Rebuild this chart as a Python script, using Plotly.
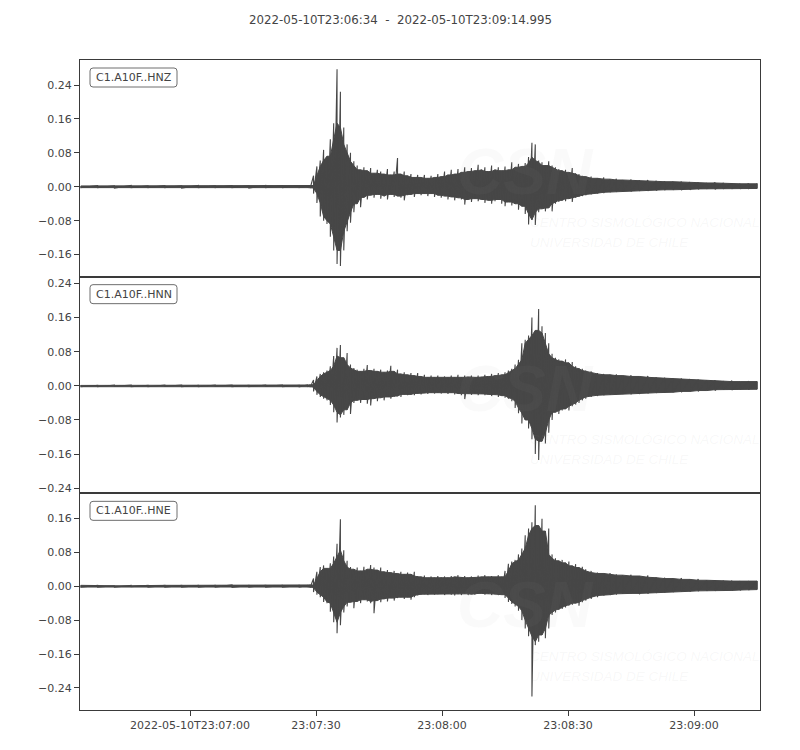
import plotly.graph_objects as go
from plotly.subplots import make_subplots

# ---------------- data (seconds after 2022-05-10T23:06:34, amplitude) ----------------
CHANNELS = ["C1.A10F..HNZ", "C1.A10F..HNN", "C1.A10F..HNE"]
TITLE = "2022-05-10T23:06:34  -  2022-05-10T23:09:14.995"

# sample columns (s) at which the envelope of the traces was read
TIME = [0, 4, 8, 12, 16, 20, 24, 28, 32, 36, 40, 44, 48, 52, 54,
        54.6, 55.4, 56.2, 57.0, 57.8, 58.6, 59.4, 60.2, 61.0, 61.8,
        62.6, 63.4, 64.2, 65.0, 65.8, 66.6, 67.4, 68.2, 69.0, 69.8,
        70.6, 71.4, 72.2, 73.0, 73.8, 74.6, 75.4, 76.2, 77.0, 77.8,
        78.6, 79.4, 80.2, 81.0, 81.8, 82.6, 83.4, 84.2, 85.0, 85.8,
        86.6, 87.4, 88.2, 89.0, 89.8, 90.6, 91.4, 92.2, 93.0, 93.8,
        94.6, 95.4, 96.2, 97.0, 97.8, 98.6, 99.4, 100.2, 101.0, 101.8,
        102.6, 103.4, 104.2, 105.0, 105.8, 106.6, 107.4, 108.2, 109.0, 109.8,
        110.6, 111.4, 112.2, 113.0, 113.8, 114.6, 115.4, 116.2, 117.0, 117.8,
        118.6, 119.4, 120.2,
        121.5, 123, 124.5, 126, 127.5, 129, 131, 133, 135, 137,
        139, 141, 143, 145, 147, 149, 151, 153, 155, 157, 159, 161]

# HNZ envelope (max / min per column)
HI_Z = [.002, .003, .002, .003, .002, .003, .002, .003, .002, .003, .002, .003, .002, .002, .002,
        .003, .026, .048, .062, .087, .072, .112, .150, .277, .224,
        .140, .100, .080, .060, .050, .040, .046, .038, .044, .032,
        .040, .036, .030, .042, .028, .036, .068, .030, .036, .026,
        .030, .022, .028, .022, .028, .020, .026, .022, .030, .024,
        .036, .028, .040, .030, .042, .034, .046, .036, .044, .038,
        .052, .040, .046, .036, .050, .040, .046, .038, .048, .040,
        .058, .046, .054, .048, .056, .070, .104, .100, .062, .058,
        .050, .060, .050, .046, .042, .038, .040, .034, .044, .032,
        .030, .026, .024,
        .024, .020, .022, .018, .019, .016, .017, .015, .016, .014,
        .013, .012, .012, .011, .010, .009, .010, .009, .008, .007, .008, .007]
LO_Z = [-.002, -.002, -.003, -.002, -.002, -.002, -.003, -.002, -.002, -.002, -.003, -.002, -.002, -.002, -.002,
        -.003, -.016, -.038, -.070, -.080, -.088, -.118, -.150, -.182, -.187,
        -.150, -.105, -.085, -.060, -.040, -.048, -.025, -.030, -.020, -.026,
        -.018, -.028, -.022, -.030, -.018, -.024, -.022, -.026, -.032, -.020,
        -.018, -.024, -.016, -.020, -.017, -.022, -.016, -.024, -.020, -.026,
        -.022, -.030, -.024, -.032, -.026, -.030, -.042, -.030, -.036, -.028,
        -.034, -.030, -.038, -.032, -.040, -.034, -.030, -.040, -.046, -.036,
        -.044, -.040, -.054, -.046, -.064, -.089, -.078, -.090, -.060, -.052,
        -.058, -.050, -.058, -.040, -.036, -.032, -.034, -.028, -.036, -.026,
        -.024, -.022, -.020,
        -.018, -.016, -.015, -.013, -.012, -.011, -.011, -.010, -.010, -.009,
        -.008, -.007, -.008, -.007, -.006, -.005, -.006, -.005, -.005, -.005, -.004, -.004]

# HNN envelope
HI_N = [.002, .001, .002, .002, .001, .002, .002, .001, .002, .002, .001, .002, .002, .001, .002,
        .003, .014, .022, .028, .032, .036, .046, .070, .089, .096,
        .066, .077, .050, .042, .038, .034, .040, .049, .036, .040,
        .034, .038, .032, .036, .047, .034, .038, .028, .032, .026,
        .030, .024, .030, .022, .026, .020, .024, .020, .024, .019,
        .022, .020, .024, .020, .026, .020, .024, .021, .024, .020,
        .024, .021, .026, .022, .028, .024, .030, .026, .032, .036,
        .040, .050, .061, .100, .108, .118, .160, .130, .180, .140,
        .124, .100, .075, .066, .062, .058, .062, .054, .056, .046,
        .042, .040, .036,
        .034, .030, .028, .026, .027, .024, .025, .022, .023, .020,
        .019, .018, .017, .016, .015, .013, .013, .011, .012, .010, .011, .010]
LO_N = [-.002, -.002, -.001, -.002, -.002, -.001, -.002, -.002, -.001, -.002, -.002, -.001, -.002, -.002, -.002,
        -.003, -.013, -.021, -.026, -.030, -.034, -.045, -.062, -.086, -.074,
        -.068, -.056, -.066, -.040, -.034, -.040, -.032, -.042, -.046, -.030,
        -.036, -.028, -.034, -.026, -.030, -.026, -.024, -.026, -.020, -.022,
        -.020, -.022, -.018, -.020, -.017, -.019, -.016, -.018, -.016, -.018,
        -.015, -.019, -.016, -.020, -.018, -.022, -.031, -.019, -.021, -.018,
        -.022, -.019, -.022, -.020, -.024, -.021, -.026, -.023, -.028, -.030,
        -.036, -.052, -.064, -.088, -.080, -.100, -.125, -.160, -.174, -.130,
        -.135, -.110, -.080, -.062, -.066, -.058, -.054, -.058, -.048, -.044,
        -.040, -.034, -.030,
        -.026, -.024, -.022, -.021, -.020, -.019, -.020, -.019, -.018, -.017,
        -.016, -.015, -.015, -.013, -.013, -.011, -.011, -.009, -.010, -.008, -.009, -.008]

# HNE envelope
HI_E = [.002, .002, .001, .002, .002, .002, .002, .002, .002, .003, .002, .002, .002, .002, .002,
        .003, .018, .034, .045, .049, .042, .054, .070, .100, .158,
        .085, .060, .045, .040, .044, .036, .046, .040, .050, .044,
        .038, .044, .034, .038, .032, .036, .030, .034, .028, .032,
        .028, .034, .024, .022, .025, .020, .023, .020, .024, .021,
        .023, .020, .024, .022, .026, .021, .024, .020, .023, .021,
        .025, .022, .026, .022, .024, .021, .026, .022, .036, .053,
        .058, .062, .075, .089, .120, .136, .151, .191, .143, .159,
        .130, .136, .075, .066, .060, .062, .055, .058, .048, .052,
        .044, .046, .040,
        .036, .032, .030, .031, .028, .026, .027, .024, .025, .021,
        .020, .018, .019, .016, .017, .014, .014, .013, .013, .012, .012, .012]
LO_E = [-.002, -.002, -.002, -.001, -.002, -.002, -.002, -.002, -.002, -.003, -.002, -.002, -.002, -.002, -.002,
        -.003, -.014, -.020, -.026, -.037, -.040, -.060, -.085, -.111, -.092,
        -.062, -.048, -.038, -.052, -.036, -.040, -.032, -.036, -.040, -.064,
        -.034, -.038, -.030, -.036, -.028, -.034, -.028, -.026, -.030, -.026,
        -.032, -.026, -.022, -.020, -.019, -.021, -.018, -.020, -.019, -.018,
        -.021, -.018, -.020, -.022, -.019, -.021, -.018, -.021, -.019, -.020,
        -.018, -.017, -.020, -.018, -.021, -.019, -.021, -.020, -.028, -.037,
        -.042, -.048, -.058, -.080, -.100, -.118, -.260, -.139, -.131, -.115,
        -.123, -.100, -.068, -.062, -.056, -.054, -.050, -.046, -.044, -.040,
        -.046, -.038, -.034,
        -.030, -.026, -.022, -.021, -.020, -.018, -.017, -.019, -.018, -.016,
        -.015, -.014, -.013, -.013, -.012, -.011, -.011, -.010, -.010, -.010, -.009, -.008]

TRACES = [(HI_Z, LO_Z), (HI_N, LO_N), (HI_E, LO_E)]
for _hi, _lo in TRACES:
    assert len(_hi) == len(TIME) and len(_lo) == len(TIME), (len(_hi), len(_lo), len(TIME))

X_TICK_SECONDS = [26, 56, 86, 116, 146]
X_TICK_LABELS = ["2022-05-10T23:07:00", "23:07:30", "23:08:00", "23:08:30", "23:09:00"]
Y_RANGES = [[-0.212, 0.299], [-0.252, 0.256], [-0.292, 0.219]]
X_RANGE = [-0.2, 161.7]

# ---------------- style ----------------
WAVE = "#474747"
FRAME = "#3a3a3a"
TEXT = "#444444"
FONT = "DejaVu Sans"
# page has an 8 px body margin; plot area on screen is x 80..760, y 60..710
W, H = 792, 742
ML, MR, MT, MB = 72, 40, 52, 40
SX0, SX1, SY0, SY1 = 80, 760, 60, 710


def px(x):
    return (x - SX0) / (SX1 - SX0)


def py(y):
    return (SY1 - y) / (SY1 - SY0)


def core(vals, pick):
    # solid body of the trace: the smaller excursion of each column and its neighbours
    n = len(vals)
    return [pick(vals[max(0, k - 1):min(n, k + 2)]) for k in range(n)]


fig = make_subplots(rows=3, cols=1, shared_xaxes=True, vertical_spacing=0)

for i, (hi, lo) in enumerate(TRACES):
    core_hi = core(hi, min)
    core_lo = core(lo, max)
    fig.add_trace(go.Scatter(
        x=list(TIME) + list(TIME)[::-1],
        y=core_hi + core_lo[::-1],
        mode="lines", fill="toself", fillcolor=WAVE,
        line=dict(color=WAVE, width=1),
        hoverinfo="skip", showlegend=False), row=i + 1, col=1)
    # min/max strokes of every column (hairline spikes)
    zx, zy = [], []
    for t, a, b in zip(TIME, hi, lo):
        zx += [t, t]
        zy += [a, b]
    fig.add_trace(go.Scatter(
        x=zx, y=zy, mode="lines", line=dict(color=WAVE, width=1.1),
        hoverinfo="skip", showlegend=False), row=i + 1, col=1)

shapes = []
annotations = []
panel_h = (SY1 - SY0) / 3
wm = "rgba(150,150,150,0.07)"
for i, name in enumerate(CHANNELS):
    top = SY0 + i * panel_h
    # rounded label box
    x0, x1, y0, y1, r = 90, 177, top + 8, top + 27, 3
    path = (f"M {px(x0 + r)},{py(y0)} L {px(x1 - r)},{py(y0)} Q {px(x1)},{py(y0)} {px(x1)},{py(y0 + r)} "
            f"L {px(x1)},{py(y1 - r)} Q {px(x1)},{py(y1)} {px(x1 - r)},{py(y1)} "
            f"L {px(x0 + r)},{py(y1)} Q {px(x0)},{py(y1)} {px(x0)},{py(y1 - r)} "
            f"L {px(x0)},{py(y0 + r)} Q {px(x0)},{py(y0)} {px(x0 + r)},{py(y0)} Z")
    shapes.append(dict(type="path", path=path, xref="paper", yref="paper",
                       line=dict(color="#6e6e6e", width=1), fillcolor="white", layer="above"))
    annotations.append(dict(text=name, x=px(94), y=py(top + 17.5), xref="paper", yref="paper",
                            xanchor="left", yanchor="middle", showarrow=False,
                            font=dict(family=FONT, size=11, color=TEXT)))
    # faint watermark
    annotations.append(dict(text="<b><i>CSN</i></b>", x=px(455), y=py(top + 112), xref="paper", yref="paper",
                            xanchor="left", yanchor="middle", showarrow=False,
                            font=dict(family="Liberation Sans", size=64, color="rgba(150,150,150,0.05)")))
    annotations.append(dict(text="<i>CENTRO SISMOLÓGICO NACIONAL</i>", x=px(528), y=py(top + 163),
                            xref="paper", yref="paper", xanchor="left", yanchor="middle", showarrow=False,
                            font=dict(family="Liberation Sans", size=13.5, color=wm)))
    annotations.append(dict(text="<i>UNIVERSIDAD DE CHILE</i>", x=px(528), y=py(top + 183),
                            xref="paper", yref="paper", xanchor="left", yanchor="middle", showarrow=False,
                            font=dict(family="Liberation Sans", size=13.5, color=wm)))

annotations.append(dict(text=TITLE, x=px(400), y=py(20), xref="paper", yref="paper",
                        xanchor="center", yanchor="middle", showarrow=False,
                        font=dict(family=FONT, size=11.8, color=TEXT)))

fig.update_layout(
    width=W, height=H, margin=dict(l=ML, r=MR, t=MT, b=MB),
    paper_bgcolor="white", plot_bgcolor="white",
    shapes=shapes, annotations=annotations, showlegend=False,
)

for i in range(3):
    last = i == 2
    fig.update_xaxes(range=X_RANGE, showgrid=False, zeroline=False, showline=True, mirror=True,
                     linecolor=FRAME, linewidth=1,
                     ticks="outside" if last else "", ticklen=5, tickcolor=FRAME,
                     tickvals=X_TICK_SECONDS, ticktext=X_TICK_LABELS, showticklabels=last,
                     tickfont=dict(family=FONT, size=11, color=TEXT), row=i + 1, col=1)
    fig.update_yaxes(range=Y_RANGES[i], showgrid=False, zeroline=False, showline=True, mirror=True,
                     linecolor=FRAME, linewidth=1, ticks="outside", ticklen=5, tickcolor=FRAME,
                     tick0=0, dtick=0.08, tickformat=".2f",
                     tickfont=dict(family=FONT, size=11, color=TEXT), row=i + 1, col=1)

fig.write_html("out.html")
